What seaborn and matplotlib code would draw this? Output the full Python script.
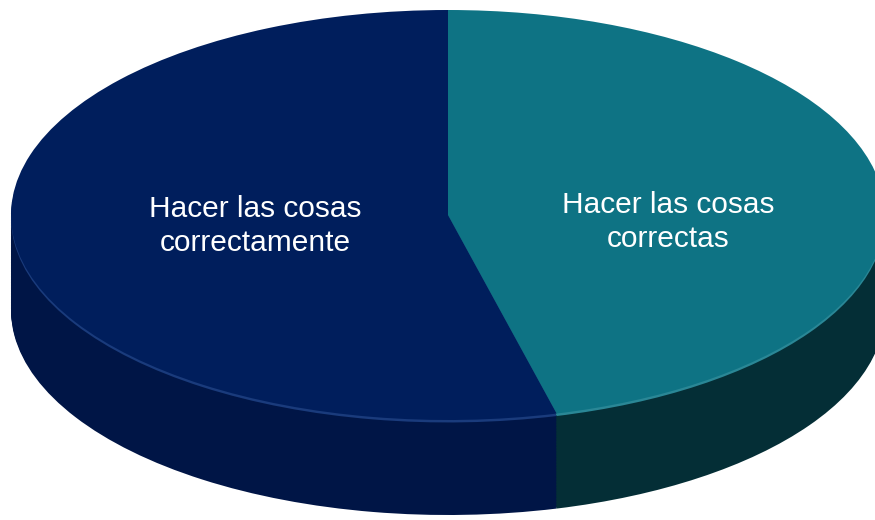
import matplotlib
matplotlib.use("Agg")
import matplotlib.pyplot as plt
import seaborn as sns
import numpy as np

# Data
categories = ["Hacer las cosas\ncorrectas", "Hacer las cosas\ncorrectamente"]
values = [46, 54]
top_colors = ["#0e7384", "#001e5c"]
rim_colors = ["#2a8796", "#1a3b7c"]
side_colors = ["#042e36", "#001546"]

sns.set_theme(style="white")
plt.rcParams["font.family"] = ["Liberation Sans", "DejaVu Sans"]

fig = plt.figure(figsize=(8.75, 5.2), dpi=100)
ax = fig.add_axes([0, 0, 1, 1])

# geometry (pixels -> data units of a unit-circle pie squashed to an ellipse)
cx_px, cy_px, a_px, b_px, depth_px = 448, 215, 437, 205, 95
W, H = 875, 520

depth = depth_px / b_px
for k in np.linspace(depth, 0.02, 60):
    ax.pie(values, colors=side_colors, startangle=90, counterclock=False,
           radius=1, center=(0, -k), wedgeprops=dict(linewidth=0))
ax.pie(values, colors=rim_colors, startangle=90, counterclock=False,
       radius=1, center=(0, -0.012), wedgeprops=dict(linewidth=0))
ax.pie(values, colors=top_colors, startangle=90, counterclock=False,
       radius=1, center=(0, 0), wedgeprops=dict(linewidth=0))

ax.set_aspect("auto")
ax.set_xlim(-cx_px / a_px, (W - cx_px) / a_px)
ax.set_ylim(-(H - cy_px) / b_px, cy_px / b_px)
ax.axis("off")

label_pos = [(668, 222), (255, 226)]
for lab, (px, py) in zip(categories, label_pos):
    ax.text((px - cx_px) / a_px, (cy_px - py) / b_px, lab, color="white",
            fontsize=21.5, ha="center", va="center", linespacing=1.25)

fig.savefig("out.png", dpi=100, facecolor="white")
